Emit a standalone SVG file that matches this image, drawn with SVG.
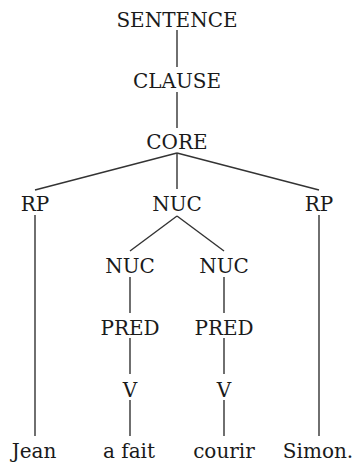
<svg xmlns="http://www.w3.org/2000/svg" width="356" height="462" viewBox="0 0 356 462">
<style>
text{font-family:"DejaVu Serif","Liberation Serif",serif;font-size:20px;fill:#1a1a1a;text-anchor:middle}
.e line{stroke:#333;stroke-width:1.4;stroke-linecap:butt}
</style>
<rect width="356" height="462" fill="#fff"/>
<g class="e" id="connectors">
<line x1="177" y1="30" x2="177" y2="67"/>
<line x1="177" y1="92" x2="177" y2="128"/>
<line x1="177" y1="153" x2="35" y2="190"/>
<line x1="177" y1="153" x2="177" y2="189"/>
<line x1="177" y1="153" x2="319" y2="190"/>
<line x1="35" y1="215" x2="35" y2="436"/>
<line x1="319" y1="215" x2="319" y2="436"/>
<line x1="177" y1="216" x2="130" y2="251"/>
<line x1="177" y1="216" x2="224" y2="251"/>
<line x1="130" y1="277" x2="130" y2="313"/>
<line x1="224" y1="277" x2="224" y2="313"/>
<line x1="130" y1="338" x2="130" y2="374"/>
<line x1="224" y1="338" x2="224" y2="374"/>
<line x1="130" y1="400" x2="130" y2="436"/>
<line x1="224" y1="400" x2="224" y2="436"/>
</g>
<g id="sentence"><text x="177" y="27">SENTENCE</text></g>
<g id="clause"><text x="177" y="88">CLAUSE</text></g>
<g id="core"><text x="177" y="149">CORE</text></g>
<g id="rp1"><text x="35" y="211">RP</text></g>
<g id="nuc"><text x="177" y="211">NUC</text></g>
<g id="rp2"><text x="319" y="211">RP</text></g>
<g id="nuc1"><text x="130" y="273">NUC</text></g>
<g id="nuc2"><text x="224" y="273">NUC</text></g>
<g id="pred1"><text x="130" y="335">PRED</text></g>
<g id="pred2"><text x="224" y="335">PRED</text></g>
<g id="v1"><text x="130" y="397">V</text></g>
<g id="v2"><text x="224" y="397">V</text></g>
<g id="jean"><text x="34" y="458">Jean</text></g>
<g id="afait"><text x="129" y="458">a fait</text></g>
<g id="courir"><text x="224" y="458">courir</text></g>
<g id="simon"><text x="318" y="458">Simon.</text></g>
</svg>
